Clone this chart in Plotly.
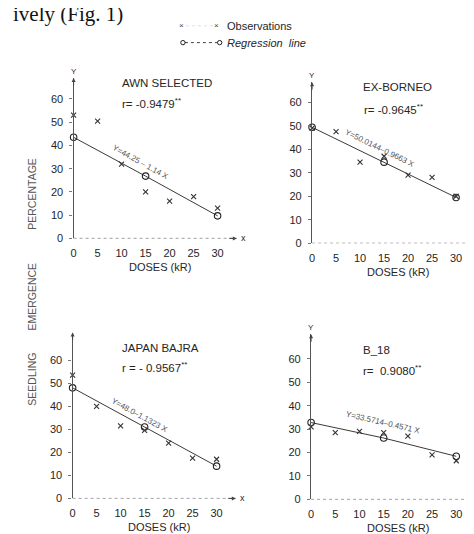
import plotly.graph_objects as go

W, H = 474, 534

# ---------------- data ----------------
doses = [0, 5, 10, 15, 20, 25, 30]
fit_doses = [0, 15, 30]

awn_obs = [53, 50.5, 32, 20, 16, 18, 13]
awn_fit = [43.5, 26.8, 9.7]

borneo_obs = [49, 47.5, 34.5, 37, 29, 28, 20]
borneo_fit = [49.3, 34.5, 19.5]

japan_obs = [53.5, 40, 31.5, 29.5, 24, 17.5, 17]
japan_fit = [48, 31, 14]

b18_obs = [31, 28.5, 29, 28.5, 27, 19, 16.5]
b18_fit = [32.8, 26.2, 18.4]

titles = ["AWN SELECTED", "EX-BORNEO", "JAPAN BAJRA", "B_18"]
r_texts = ["r= -0.9479<sup>**</sup>", "r= -0.9645<sup>**</sup>",
           "r = - 0.9567<sup>**</sup>", "r=  0.9080<sup>**</sup>"]
equations = ["Y=44.25 \u2013 1.14 X", "Y=50.0144\u20130.9663 X",
             "Y=48.0\u20131.1323 X", "Y=33.5714\u20130.4571 X"]
x_ticks = [0, 5, 10, 15, 20, 25, 30]
y_ticks = [0, 10, 20, 30, 40, 50, 60]

# ---------------- layout geometry (pixels) ----------------
panels = [
    dict(ox=63, oy=233, sx=4.83, sy=2.35, xmax=34, ymax=69, obs=awn_obs, fit=awn_fit,
         title_px=(110, 76), r_px=(110, 96), eq=(14, 32.5, 29), xarrow=True, xlab=True, ylab=True),
    dict(ox=303, oy=238, sx=4.83, sy=2.38, xmax=34.5, ymax=68.5, obs=borneo_obs, fit=borneo_fit,
         title_px=(352, 80), r_px=(353, 102), eq=(14.2, 40.5, 26), xarrow=True, xlab=False, ylab=True),
    dict(ox=62, oy=496, sx=4.83, sy=2.33, xmax=34, ymax=72, obs=japan_obs, fit=japan_fit,
         title_px=(110, 344), r_px=(110, 363), eq=(14, 35.8, 28.7), xarrow=True, xlab=True, ylab=False),
    dict(ox=302, oy=497, sx=4.87, sy=2.37, xmax=34, ymax=70.5, obs=b18_obs, fit=b18_fit,
         title_px=(352, 346), r_px=(352, 366), eq=(14.8, 32.7, 13), xarrow=False, xlab=False, ylab=True),
]

FONT = "Liberation Sans, Arial, sans-serif"
INK = "#262626"

def pxx(px):
    return px / W

def pxy(py):
    return 1 - py / H

fig = go.Figure()
annotations = []
shapes = []
layout_axes = {}

for i, p in enumerate(panels):
    n = "" if i == 0 else str(i + 1)
    xa, ya = "x" + n, "y" + n
    x0, x1 = p["ox"], p["ox"] + p["xmax"] * p["sx"]
    y0, y1 = p["oy"], p["oy"] - p["ymax"] * p["sy"]

    fig.add_trace(go.Scatter(
        x=fit_doses, y=p["fit"], mode="lines+markers", xaxis=xa, yaxis=ya,
        line=dict(color="#3a3a3a", width=1),
        marker=dict(symbol="circle-open", size=6.5, color="#222", line=dict(width=1.1)),
        cliponaxis=False, showlegend=False, hoverinfo="skip"))
    fig.add_trace(go.Scatter(
        x=doses, y=p["obs"], mode="markers", xaxis=xa, yaxis=ya,
        marker=dict(symbol="x-thin", size=5, color="#333", line=dict(width=1.1, color="#333")),
        cliponaxis=False, showlegend=False, hoverinfo="skip"))

    layout_axes["xaxis" + n] = dict(
        domain=[pxx(x0), pxx(x1)], range=[0, p["xmax"]], anchor=ya,
        showgrid=False, zeroline=False, showline=False,
        tickmode="array", tickvals=x_ticks, ticktext=[str(t) for t in x_ticks],
        ticks="outside", ticklen=4, tickcolor="rgba(0,0,0,0)",
        tickfont=dict(family=FONT, size=11, color=INK))
    layout_axes["yaxis" + n] = dict(
        domain=[pxy(y0), pxy(y1)], range=[0, p["ymax"]], anchor=xa,
        showgrid=False, zeroline=False, showline=True, linecolor="#555", linewidth=1.4,
        tickmode="array", tickvals=y_ticks, ticktext=[str(t) for t in y_ticks],
        ticks="outside", ticklen=3, tickcolor="#777", tickwidth=1,
        ticklabelstandoff=4,
        tickfont=dict(family=FONT, size=11, color=INK))

    shapes.append(dict(type="line", xref=xa + " domain", yref=ya, x0=0, x1=1, y0=0, y1=0,
                       line=dict(color="#555", width=1, dash="dot")))
    if p["xarrow"]:
        annotations.append(dict(xref=xa + " domain", yref=ya, x=1, y=0, ax=-9, ay=0,
                                axref="pixel", ayref="pixel", text="", showarrow=True,
                                arrowhead=2, arrowsize=0.8, arrowwidth=1, arrowcolor="#444"))
    if p["xlab"]:
        annotations.append(dict(xref=xa + " domain", yref=ya, x=1, y=0, xanchor="left",
                                yanchor="middle", xshift=2, text="x", showarrow=False,
                                font=dict(family=FONT, size=9, color=INK)))
    annotations.append(dict(xref=xa, yref=ya + " domain", x=0, y=1, ax=0, ay=9,
                            axref="pixel", ayref="pixel", text="", showarrow=True,
                            arrowhead=2, arrowsize=0.8, arrowwidth=1, arrowcolor="#444"))
    if p["ylab"]:
        annotations.append(dict(xref=xa, yref=ya + " domain", x=0, y=1, xanchor="center",
                                yanchor="bottom", text="Y", showarrow=False,
                                font=dict(family=FONT, size=8, color=INK)))

    tx, ty = p["title_px"]
    annotations.append(dict(xref="paper", yref="paper", x=pxx(tx), y=pxy(ty),
                            xanchor="left", yanchor="middle", text=titles[i], showarrow=False,
                            font=dict(family=FONT, size=11.5, color=INK)))
    rx, ry = p["r_px"]
    annotations.append(dict(xref="paper", yref="paper", x=pxx(rx), y=pxy(ry),
                            xanchor="left", yanchor="middle", text=r_texts[i], showarrow=False,
                            font=dict(family=FONT, size=11.5, color=INK)))
    ex, ey, ang = p["eq"]
    annotations.append(dict(xref=xa, yref=ya, x=ex, y=ey, xanchor="center", yanchor="middle",
                            text=equations[i], showarrow=False,
                            textangle=ang, font=dict(family=FONT, size=8, color="#555")))
    annotations.append(dict(xref=xa, yref="paper", x=18, y=pxy(p["oy"] + 21),
                            xanchor="center", yanchor="top", text="DOSES (kR)", showarrow=False,
                            font=dict(family=FONT, size=11, color=INK)))

# shared y-axis title (three words, spaced)
for word, cy in [("PERCENTAGE", 188), ("EMERGENCE", 292), ("SEEDLING", 375)]:
    annotations.append(dict(xref="paper", yref="paper", x=pxx(21), y=pxy(cy), text=word,
                            xanchor="center", yanchor="middle",
                            textangle=-90, showarrow=False,
                            font=dict(family=FONT, size=10.5, color="#555")))

# legend (drawn)
for lx in (172, 207):
    annotations.append(dict(xref="paper", yref="paper", x=pxx(lx), y=pxy(18), text="\u00d7",
                            xanchor="center", yanchor="middle",
                            showarrow=False, font=dict(family=FONT, size=8, color="#444")))
shapes.append(dict(type="line", xref="paper", yref="paper", x0=pxx(176), x1=pxx(204),
                   y0=pxy(18), y1=pxy(18), line=dict(color="#ccc", width=0.6, dash="dot")))
annotations.append(dict(xref="paper", yref="paper", x=pxx(215), y=pxy(18), xanchor="left",
                        yanchor="middle", text="Observations", showarrow=False,
                        font=dict(family=FONT, size=11, color=INK)))
shapes.append(dict(type="line", xref="paper", yref="paper", x0=pxx(175), x1=pxx(208),
                   y0=pxy(35), y1=pxy(35), line=dict(color="#444", width=1, dash="dot")))
for cx in (173, 210):
    shapes.append(dict(type="circle", xref="paper", yref="paper",
                       x0=pxx(cx - 2.2), x1=pxx(cx + 2.2), y0=pxy(35 + 2.2), y1=pxy(35 - 2.2),
                       line=dict(color="#222", width=1), fillcolor="white"))
annotations.append(dict(xref="paper", yref="paper", x=pxx(215), y=pxy(35), xanchor="left",
                        yanchor="middle", text="<i>Regression  line</i>", showarrow=False,
                        font=dict(family=FONT, size=11, color=INK)))

# page text fragment at top-left (slightly cut by the top edge, as in the scan)
annotations.append(dict(xref="paper", yref="paper", x=0, y=pxy(-8), xanchor="left",
                        yanchor="top", text="ively (Fig. 1)", showarrow=False,
                        font=dict(family="Liberation Serif, serif", size=21, color="#111")))

fig.update_layout(
    width=W, height=H, margin=dict(l=0, r=0, t=0, b=0),
    paper_bgcolor="white", plot_bgcolor="white",
    annotations=annotations, shapes=shapes, **layout_axes)

fig.write_html("out.html")
